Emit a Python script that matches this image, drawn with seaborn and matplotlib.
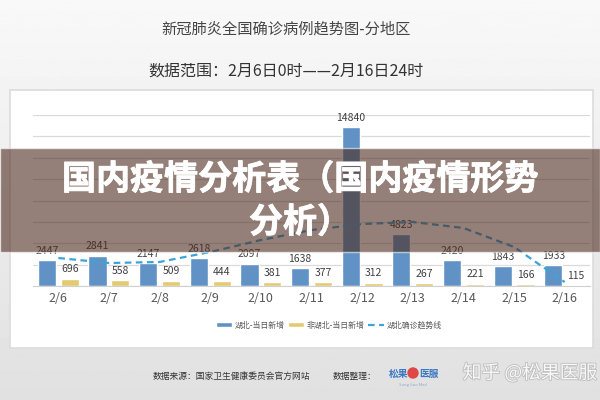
import numpy as np
import pandas as pd
import seaborn as sns
import matplotlib.pyplot as plt
import matplotlib.patheffects as pe
from matplotlib.patches import Rectangle, Ellipse

# data
dates = ['2/6', '2/7', '2/8', '2/9', '2/10', '2/11', '2/12', '2/13', '2/14', '2/15', '2/16']
hubei_new = [2447, 2841, 2147, 2618, 2097, 1638, 14840, 4823, 2420, 1843, 1933]
other_new = [696, 558, 509, 444, 381, 377, 312, 267, 221, 166, 115]
hubei_trend = [2620, 2150, 2250, 3180, 4300, 5240, 5800, 5990, 5430, 3650, 370]
series_names = ['湖北-当日新增', '非湖北-当日新增', '湖北确诊趋势线']

title = '新冠肺炎全国确诊病例趋势图-分地区'
subtitle = '数据范围：2月6日0时——2月16日24时'
banner1 = '国内疫情分析表（国内疫情形势'
banner2 = '分析）'

blue = '#4f92d6'
yellow = '#f8d45c'
trend_col = '#3aa5d6'

sns.set_style('white')
plt.rcParams['font.family'] = ['Noto Sans CJK SC', 'DejaVu Sans']

fig = plt.figure(figsize=(6, 4), dpi=100)

# grey gradient background + white panel
bg = fig.add_axes([0, 0, 1, 1], zorder=-10)
grad = np.linspace(0.975, 0.88, 256).reshape(-1, 1)
bg.imshow(grad, cmap='gray', vmin=0, vmax=1, aspect='auto', extent=[0, 1, 0, 1])
bg.add_patch(Rectangle((10 / 600, 1 - 348 / 400), 583 / 600, 258 / 400, transform=bg.transAxes,
                       facecolor='white', edgecolor='#dcdcdc', lw=1.2))
bg.axis('off')

ax = fig.add_axes([33 / 600, 114 / 400, 557 / 600, 171 / 400])
ax.patch.set_alpha(0)

df = pd.DataFrame({
    'date': dates * 2,
    'value': hubei_new + other_new,
    'series': [series_names[0]] * len(dates) + [series_names[1]] * len(dates),
})
sns.barplot(data=df, x='date', y='value', hue='series', palette=[blue, yellow],
            width=0.9, gap=0.2, ax=ax, zorder=2)
for c in ax.containers:
    ax.bar_label(c, fmt='%d', padding=3, fontsize=7.5, color='#404040')

sns.lineplot(x=dates, y=hubei_trend, ax=ax, color=trend_col, lw=1.6,
             linestyle=(0, (3, 2)), label=series_names[2], zorder=3)

ax.set_xlim(-0.5, 10.5)
ax.set_ylim(0, 16000)
ax.set_yticks(range(0, 16001, 2000))
ax.set_yticklabels([])
ax.tick_params(axis='y', length=0)
ax.grid(axis='y', color='#dadada', lw=0.9)
ax.set_axisbelow(True)
for s in ['left', 'right', 'top']:
    ax.spines[s].set_visible(False)
ax.spines['bottom'].set_color('#d0d0d0')
ax.set_xticks(np.arange(-0.5, 11, 1), minor=True)
ax.tick_params(axis='x', which='major', length=0, pad=4, labelsize=9, labelcolor='#595959')
ax.tick_params(axis='x', which='minor', length=3, color='#d0d0d0')
ax.set_xlabel('')
ax.set_ylabel('')

h, l = ax.get_legend_handles_labels()
ax.get_legend().remove()
fig.legend(h, l, loc='center', bbox_to_anchor=(329 / 600, 1 - 325 / 400), ncol=3, frameon=False,
           fontsize=5.7, handlelength=2.0, handleheight=0.5, handletextpad=0.4,
           columnspacing=0.4, labelcolor='#595959')

# titles
fig.text(286 / 600, 1 - 29 / 400, title, ha='center', va='center', fontsize=11, color='#454545')
fig.text(286 / 600, 1 - 71 / 400, subtitle, ha='center', va='center', fontsize=11.5, color='#333333')

# footer
fig.text(153 / 600, 1 - 376 / 400, '数据来源：国家卫生健康委员会官方网站', ha='left', va='center',
         fontsize=6.3, color='#333333')
fig.text(333 / 600, 1 - 376 / 400, '数据整理：', ha='left', va='center', fontsize=6.3, color='#333333')
fig.text(389 / 600, 1 - 374 / 400, '松果', ha='left', va='center', fontsize=7, color='#3b78c2', weight='bold')
fig.add_artist(Ellipse((413 / 600, 1 - 373 / 400), 10 / 600, 10 / 400, transform=fig.transFigure,
                       color='#e04848'))
fig.text(419 / 600, 1 - 374 / 400, '医服', ha='left', va='center', fontsize=7, color='#3b78c2', weight='bold')
fig.text(413 / 600, 1 - 385 / 400, 'Song Guo Med', ha='center', va='center', fontsize=3, color='#8fa9c8')
fig.text(530 / 600, 1 - 373 / 400, '知乎 @松果医服', ha='center', va='center', fontsize=13.5,
         color='#f8f8f8', path_effects=[pe.withStroke(linewidth=1.2, foreground='#bdbdbd')])

# overlay banner
fig.add_artist(Rectangle((0, 1 - 252 / 400), 1, 104 / 400, transform=fig.transFigure,
                         facecolor=(0.30, 0.17, 0.12), alpha=0.6, zorder=10))
thick = [pe.withStroke(linewidth=0.6, foreground='white')]
fig.text(0.5, 1 - 179 / 400, banner1, ha='center', va='center', fontsize=24.5, color='white',
         weight='heavy', zorder=11, path_effects=thick)
fig.text(0.5, 1 - 222 / 400, banner2, ha='center', va='center', fontsize=24.5, color='white',
         weight='heavy', zorder=11, path_effects=thick)

plt.savefig('out.png', dpi=100)
